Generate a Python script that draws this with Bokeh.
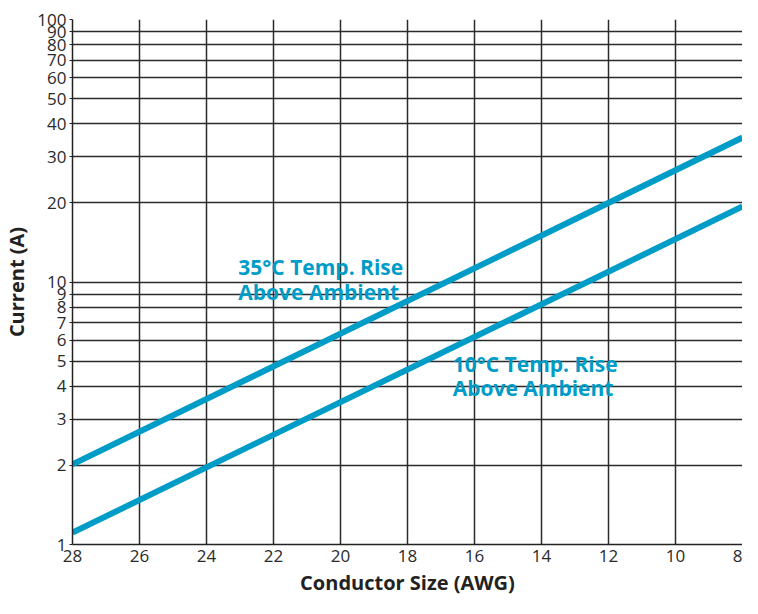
from bokeh.plotting import figure
from bokeh.models import Range1d, FixedTicker, ColumnDataSource
from bokeh.core.properties import value
from bokeh.embed import file_html
from bokeh.resources import INLINE

# ---- data ----
awg = [28, 8]
rise_35 = [2.02, 35.5]
rise_10 = [1.11, 19.4]
x_ticks = [28, 26, 24, 22, 20, 18, 16, 14, 12, 10, 8]
y_ticks = [1, 2, 3, 4, 5, 6, 7, 8, 9, 10, 20, 30, 40, 50, 60, 70, 80, 90, 100]
label_35 = ["35°C Temp. Rise", "Above Ambient"]
label_10 = ["10°C Temp. Rise", "Above Ambient"]
label_35_pos = ([23.05, 23.05], [11.4, 9.15])
label_10_pos = ([16.65, 16.65], [4.85, 3.95])

BLUE = "#009cc8"
GRID = "#2b2b2b"
FONT = "Open Sans"

p = figure(width=742, height=598, output_backend="svg", toolbar_location=None,
           y_axis_type="log", x_range=Range1d(28, 8), y_range=Range1d(1, 100),
           min_border_left=72, min_border_right=0, min_border_top=19, min_border_bottom=54)
p.outline_line_color = None

p.xaxis.ticker = FixedTicker(ticks=x_ticks)
p.yaxis.ticker = FixedTicker(ticks=y_ticks)
p.yaxis.major_label_overrides = {t: str(t) for t in y_ticks}
p.xaxis.major_label_overrides = {t: str(t) for t in x_ticks}

for ax in (p.xaxis, p.yaxis):
    ax.axis_line_color = "#222222"
    ax.axis_line_width = 1.5
    ax.major_tick_line_color = "#222222"
    ax.minor_tick_line_color = None
    ax.major_label_text_font = FONT
    ax.major_label_text_font_size = "17px"
    ax.major_label_text_color = "#2a2a2a"
    ax.axis_label_text_font = FONT
    ax.axis_label_text_font_style = "bold"
    ax.axis_label_text_font_size = "20px"
    ax.axis_label_text_color = "#222222"

p.xaxis.major_tick_out = 0
p.xaxis.major_tick_in = 0
p.yaxis.major_tick_out = 3
p.yaxis.major_tick_in = 0
p.xaxis.major_label_standoff = 5
p.yaxis.major_label_standoff = 3
p.xaxis.axis_label = "Conductor Size (AWG)"
p.yaxis.axis_label = "Current (A)"
p.xaxis.axis_label_standoff = 4
p.yaxis.axis_label_standoff = 4

p.xgrid.grid_line_color = GRID
p.xgrid.grid_line_width = 1.5
p.ygrid.grid_line_color = GRID
p.ygrid.grid_line_width = 1.5

p.line(awg, rise_35, line_color=BLUE, line_width=6)
p.line(awg, rise_10, line_color=BLUE, line_width=6)

src35 = ColumnDataSource(dict(x=label_35_pos[0], y=label_35_pos[1], t=label_35))
src10 = ColumnDataSource(dict(x=label_10_pos[0], y=label_10_pos[1], t=label_10))
for src in (src35, src10):
    p.text(x="x", y="y", text="t", source=src, text_color=BLUE,
           text_font=value(FONT), text_font_style="bold", text_font_size="21px",
           text_align="left", text_baseline="middle")

open("out.html", "w").write(file_html(p, INLINE))
